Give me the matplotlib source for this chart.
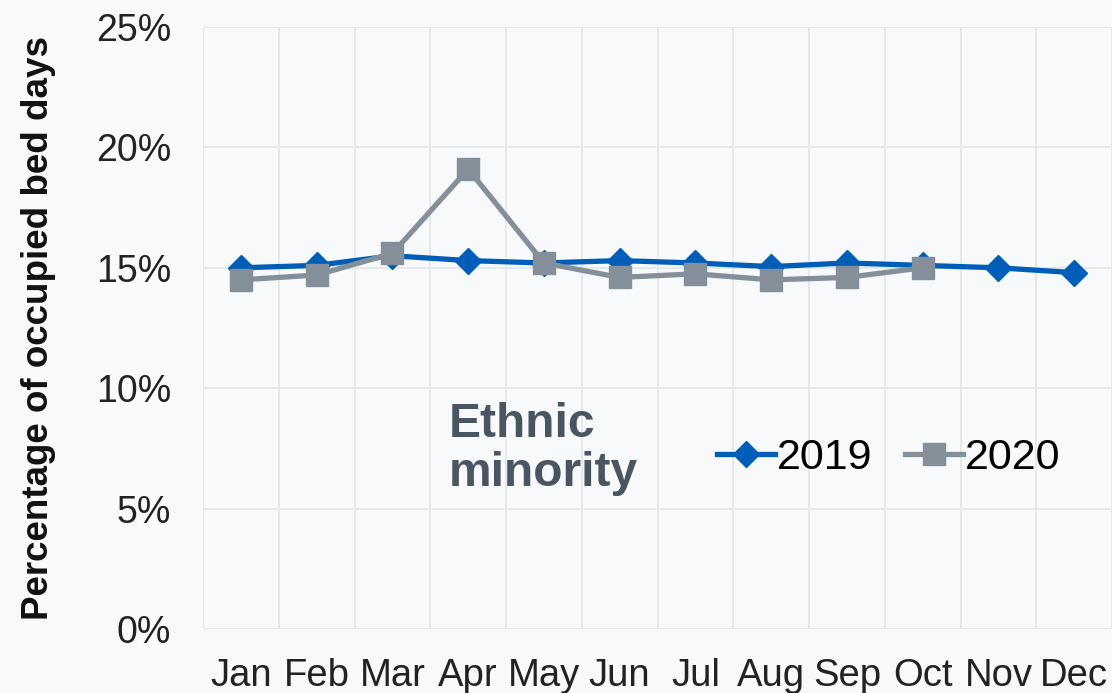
import matplotlib.pyplot as plt
import numpy as np

months = ['Jan', 'Feb', 'Mar', 'Apr', 'May', 'Jun', 'Jul', 'Aug', 'Sep', 'Oct', 'Nov', 'Dec']
pct_2019 = [15.0, 15.1, 15.5, 15.3, 15.2, 15.3, 15.2, 15.05, 15.2, 15.1, 15.0, 14.8]
pct_2020 = [14.5, 14.7, 15.6, 19.1, 15.2, 14.6, 14.75, 14.5, 14.6, 15.0]
yticks = [0, 5, 10, 15, 20, 25]

plt.rcParams['font.family'] = ['Liberation Sans', 'DejaVu Sans']

bg = '#f8f9fa'
fig = plt.figure(figsize=(11.12, 6.93), dpi=100, facecolor=bg)
ax = fig.add_axes([0.1826, 0.0924, 0.8174, 0.8686], facecolor=bg)

x = np.arange(len(months))
ax.plot(x, pct_2019, color='#005eb8', lw=3.8, marker='D', ms=13,
        label='2019', zorder=3)
ax.plot(x[:len(pct_2020)], pct_2020, color='#858f99', lw=3.8, marker='s', ms=16,
        label='2020', zorder=4)

ax.set_xlim(-0.5, 11.5)
ax.set_ylim(0, 25)
ax.set_yticks(yticks)
ax.set_yticklabels([f'{v}%' for v in yticks])
ax.set_xticks(x)
ax.set_xticklabels(months)
ax.set_xticks(np.arange(-0.5, 12, 1), minor=True)

ax.grid(axis='y', color='#e5e8eb', lw=1.3)
ax.grid(axis='x', which='minor', color='#e5e8eb', lw=1.3)
ax.set_axisbelow(True)
for s in ax.spines.values():
    s.set_visible(False)
ax.tick_params(which='both', length=0)
ax.tick_params(axis='y', labelsize=27, colors='#222222', pad=23)
ax.tick_params(axis='x', labelsize=27.5, colors='#222222', pad=21)

ax.set_ylabel('Percentage of occupied bed days', fontsize=26.5, fontweight='bold',
              color='#111111', labelpad=29)

fig.text(0.404, 0.352, 'Ethnic\nminority', fontsize=34.5, fontweight='bold',
         color='#4a5562', ha='left', va='center', linespacing=1.1)

ax.legend(loc='center', bbox_to_anchor=(0.799, 0.339), bbox_transform=fig.transFigure,
          ncol=2, frameon=False, fontsize=31, handlelength=1.35,
          handletextpad=0.05, columnspacing=0.75, borderaxespad=0)

fig.savefig('out.png', dpi=100, facecolor=bg)
